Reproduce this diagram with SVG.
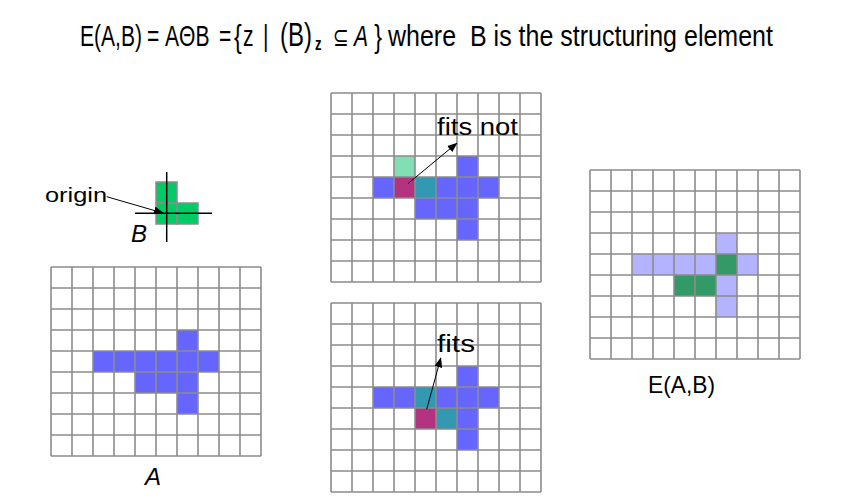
<svg xmlns="http://www.w3.org/2000/svg" xmlns:xlink="http://www.w3.org/1999/xlink" width="851" height="504" viewBox="0 0 851 504">
<style>
.t{font-family:"Liberation Sans","DejaVu Sans",sans-serif;fill:#000}
.i{font-style:italic}
.h{font-size:29px}
.gl{fill:none;stroke:#8c8c8c;stroke-width:1.6}
.bg{fill:#fff}
.bl{fill:#6666ff}.mg{fill:#b33380}.tl{fill:#3399b3}.lg{fill:#80e0b3}.lp{fill:#b3b3ff}.dg{fill:#339966}
.gr{fill:#00cc66;stroke:#8c8c8c;stroke-width:1.5}
.ax{stroke:#000;stroke-width:1.5}
.conn{stroke:#000;stroke-width:1;fill:none;marker-end:url(#ah)}
</style>
<defs>
<marker id="ah" markerWidth="10" markerHeight="8" refX="9" refY="4" orient="auto" markerUnits="userSpaceOnUse"><path d="M0 0L10 4L0 8z" fill="#000"/></marker>
<path id="gridlines" class="gl" d="M0 0V189M21 0V189M42 0V189M63 0V189M84 0V189M105 0V189M126 0V189M147 0V189M168 0V189M189 0V189M210 0V189M0 0H210M0 21H210M0 42H210M0 63H210M0 84H210M0 105H210M0 126H210M0 147H210M0 168H210M0 189H210"/>
<rect id="c" width="21" height="21"/>
</defs>

<g id="title" class="t">
<g transform="scale(0.726,1)">
<text class="h" x="110.2" y="46">E(A,B)</text>
<text class="h" x="202.5" y="46">=</text>
<text class="h" x="227.3" y="46">AΘB</text>
<text class="h" x="301.7" y="46">=</text>
<text x="322.3" y="47" font-size="32">{</text>
<text class="h" x="334.7" y="46">z</text>
<text class="h" x="362.3" y="46">|</text>
<text x="385.7" y="46" font-size="33">(B)</text>
<text x="433.9" y="50" font-size="18" font-weight="bold">z</text>
<text x="458.7" y="46" font-size="26" font-family="DejaVu Sans, sans-serif">⊆</text>
<text class="h i" x="487.6" y="46">A</text>
<text x="515.5" y="47" font-size="32">}</text>
</g>
<g transform="scale(0.862,1)">
<text class="h" x="450.1" y="46">where</text>
<text class="h" x="545.2" y="46">B</text>
<text class="h" x="572.6" y="46">is</text>
<text class="h" x="601.6" y="46">the</text>
<text class="h" x="650" y="46">structuring</text>
<text class="h" x="793.5" y="46">element</text>
</g>
</g>

<g id="structuring-element">
<rect class="gr" x="156" y="182" width="21" height="21"/>
<rect class="gr" x="156" y="203" width="21" height="21"/>
<rect class="gr" x="177" y="203" width="21" height="21"/>
<line class="ax" x1="166.7" y1="172" x2="166.7" y2="242"/>
<line class="ax" x1="135" y1="213.3" x2="212" y2="213.3"/>
<text class="t i" x="131" y="242" font-size="24">B</text>
<text class="t" x="45" y="202" font-size="20" textLength="62" lengthAdjust="spacingAndGlyphs">origin</text>
</g>

<g id="grid-A">
<g transform="translate(51,267)">
<rect class="bg" width="210" height="189"/>
<use xlink:href="#c" class="bl" x="126" y="63"/>
<use xlink:href="#c" class="bl" x="42" y="84"/><use xlink:href="#c" class="bl" x="63" y="84"/><use xlink:href="#c" class="bl" x="84" y="84"/><use xlink:href="#c" class="bl" x="105" y="84"/><use xlink:href="#c" class="bl" x="126" y="84"/><use xlink:href="#c" class="bl" x="147" y="84"/>
<use xlink:href="#c" class="bl" x="84" y="105"/><use xlink:href="#c" class="bl" x="105" y="105"/><use xlink:href="#c" class="bl" x="126" y="105"/>
<use xlink:href="#c" class="bl" x="126" y="126"/>
<use xlink:href="#gridlines"/>
</g>
<text class="t i" x="145" y="485" font-size="24">A</text>
</g>

<g id="grid-fits-not">
<g transform="translate(331,93)">
<rect class="bg" width="210" height="189"/>
<use xlink:href="#c" class="lg" x="63" y="63"/>
<use xlink:href="#c" class="bl" x="126" y="63"/>
<use xlink:href="#c" class="bl" x="42" y="84"/><use xlink:href="#c" class="mg" x="63" y="84"/><use xlink:href="#c" class="tl" x="84" y="84"/><use xlink:href="#c" class="bl" x="105" y="84"/><use xlink:href="#c" class="bl" x="126" y="84"/><use xlink:href="#c" class="bl" x="147" y="84"/>
<use xlink:href="#c" class="bl" x="84" y="105"/><use xlink:href="#c" class="bl" x="105" y="105"/><use xlink:href="#c" class="bl" x="126" y="105"/>
<use xlink:href="#c" class="bl" x="126" y="126"/>
<use xlink:href="#gridlines"/>
</g>
<text class="t" x="437" y="135" font-size="23" textLength="81" lengthAdjust="spacingAndGlyphs">fits not</text>
</g>

<g id="grid-fits">
<g transform="translate(331,303)">
<rect class="bg" width="210" height="189"/>
<use xlink:href="#c" class="bl" x="126" y="63"/>
<use xlink:href="#c" class="bl" x="42" y="84"/><use xlink:href="#c" class="bl" x="63" y="84"/><use xlink:href="#c" class="tl" x="84" y="84"/><use xlink:href="#c" class="bl" x="105" y="84"/><use xlink:href="#c" class="bl" x="126" y="84"/><use xlink:href="#c" class="bl" x="147" y="84"/>
<use xlink:href="#c" class="mg" x="84" y="105"/><use xlink:href="#c" class="tl" x="105" y="105"/><use xlink:href="#c" class="bl" x="126" y="105"/>
<use xlink:href="#c" class="bl" x="126" y="126"/>
<use xlink:href="#gridlines"/>
</g>
<text class="t" x="437" y="352" font-size="23" textLength="38" lengthAdjust="spacingAndGlyphs">fits</text>
</g>

<g id="grid-result">
<g transform="translate(590,170)">
<rect class="bg" width="210" height="189"/>
<use xlink:href="#c" class="lp" x="126" y="63"/>
<use xlink:href="#c" class="lp" x="42" y="84"/><use xlink:href="#c" class="lp" x="63" y="84"/><use xlink:href="#c" class="lp" x="84" y="84"/><use xlink:href="#c" class="lp" x="105" y="84"/><use xlink:href="#c" class="dg" x="126" y="84"/><use xlink:href="#c" class="lp" x="147" y="84"/>
<use xlink:href="#c" class="dg" x="84" y="105"/><use xlink:href="#c" class="dg" x="105" y="105"/><use xlink:href="#c" class="lp" x="126" y="105"/>
<use xlink:href="#c" class="lp" x="126" y="126"/>
<use xlink:href="#gridlines"/>
</g>
<text class="t" x="648" y="393" font-size="24" textLength="67" lengthAdjust="spacingAndGlyphs">E(A,B)</text>
</g>

<g id="connectors">
<line class="conn" x1="106.7" y1="196.7" x2="163" y2="213"/>
<line class="conn" x1="408.3" y1="183.3" x2="456.7" y2="143.3"/>
<line class="conn" x1="426.7" y1="409.3" x2="440.7" y2="358.3"/>
</g>
</svg>
